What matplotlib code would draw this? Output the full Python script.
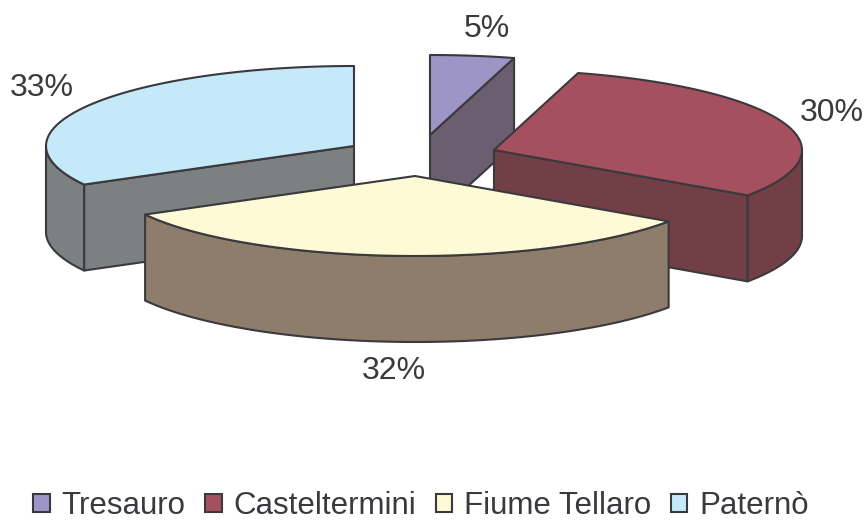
"""
Exploded 3D pie chart, drawn by hand since matplotlib has no 3D pie.
"""
import numpy as np
import matplotlib
matplotlib.use('Agg')
import matplotlib.pyplot as plt
from matplotlib.patches import Patch, Polygon

OUTPUT_PNG = "out.png"

names = ["Tresauro", "Casteltermini", "Fiume Tellaro", "Paternò"]
values = [4.4, 30.2, 32.4, 33.0]
pct_labels = ["5%", "30%", "32%", "33%"]

top_colors = ["#9c95c6", "#a5505e", "#fffad6", "#c6e9fa"]
side_colors = ["#6b5e70", "#723f47", "#8f7d6c", "#7c8080"]
EDGE = "#3a3a3e"
TEXT = "#3a3a3e"

# pixel layout of the exploded slices
centers = [(430, 135), (494, 150), (415, 176), (354, 146)]
label_pos = [(487, 29), (832, 113), (394, 371), (42, 88)]
draw_order = [0, 3, 1, 2]
RX, RY, DEPTH = 308, 80, 86


def rim(cx, cy, t):
    t = np.radians(t)
    return cx + RX * np.sin(t), cy - RY * np.cos(t)


def add_poly(ax, xs, ys, color, z):
    ax.add_patch(Polygon(np.column_stack([xs, ys]), closed=True, facecolor=color,
                         edgecolor=EDGE, linewidth=1.5, joinstyle="round", zorder=z))


def draw_slice(ax, i, start, end, z):
    cx, cy = centers[i]
    side = side_colors[i]

    # cut faces, only when they look toward the viewer
    for ang, visible in ((start, np.sin(np.radians(start)) < -1e-6),
                         (end, np.sin(np.radians(end)) > 1e-6)):
        if visible:
            ex, ey = rim(cx, cy, ang)
            add_poly(ax, [cx, ex, ex, cx], [cy, ey, ey + DEPTH, cy + DEPTH], side, z)

    # outer wall, front half of the rim only
    lo, hi = max(start, 90), min(end, 270)
    if lo < hi:
        t = np.linspace(lo, hi, 60)
        x, y = rim(cx, cy, t)
        add_poly(ax, np.r_[x, x[::-1]], np.r_[y, y[::-1] + DEPTH], side, z + 0.1)

    # top face
    t = np.linspace(start, end, 80)
    x, y = rim(cx, cy, t)
    add_poly(ax, np.r_[cx, x], np.r_[cy, y], top_colors[i], z + 0.2)


def main():
    plt.rcParams['font.family'] = ['Liberation Sans', 'DejaVu Sans']

    fig = plt.figure(figsize=(8.67, 5.22), dpi=100)
    ax = fig.add_axes([0, 0, 1, 1])
    ax.set_xlim(0, 867)
    ax.set_ylim(522, 0)
    ax.axis("off")

    bounds = np.r_[0, np.cumsum(values)] / np.sum(values) * 360
    for z, i in enumerate(draw_order):
        draw_slice(ax, i, bounds[i], bounds[i + 1], z + 1)

    for (x, y), lab in zip(label_pos, pct_labels):
        ax.text(x, y, lab, fontsize=23, color=TEXT, ha="center", va="center", zorder=10)

    handles = [Patch(facecolor=c, edgecolor=EDGE, linewidth=1.5) for c in top_colors]
    leg = ax.legend(handles, names, ncol=4, loc="center", bbox_to_anchor=(421, 506),
                    bbox_transform=ax.transData, frameon=False, fontsize=22.5,
                    labelcolor=TEXT, handlelength=0.53, handleheight=0.53,
                    handletextpad=0.38, columnspacing=0.62, borderpad=0, borderaxespad=0)
    leg.set_zorder(10)

    plt.savefig(OUTPUT_PNG, dpi=100)


if __name__ == "__main__":
    main()
